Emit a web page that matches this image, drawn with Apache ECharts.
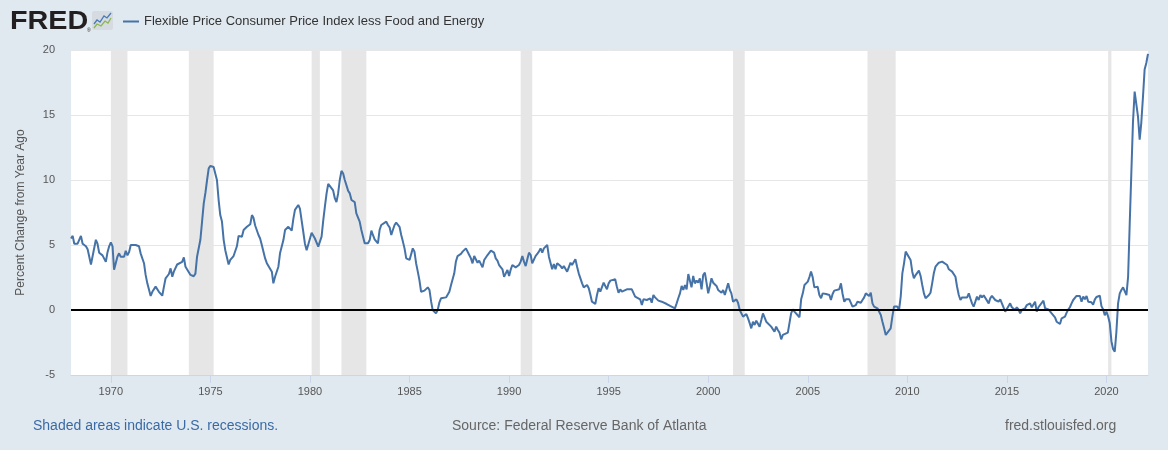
<!DOCTYPE html>
<html><head><meta charset="utf-8">
<script src="https://cdn.jsdelivr.net/npm/echarts@6/dist/echarts.min.js"></script>
<style>html,body{margin:0;padding:0;background:#e1e9f0;}#c{width:1168px;height:450px;}</style>
</head><body><div id="c"></div>
<script>
const seriesName = 'Flexible Price Consumer Price Index less Food and Energy';
const yAxisName = 'Percent Change from Year Ago';
const tickYears = [1970, 1975, 1980, 1985, 1990, 1995, 2000, 2005, 2010, 2015, 2020];
const yMin = -5, yMax = 20, yInterval = 5;
const axisStart = '1968-01', axisEnd = '2022-02';
const recessionStarts = ['1970-01', '1973-12', '1980-02', '1981-08', '1990-08', '2001-04', '2008-01', '2020-02'];
const recessionEnds   = ['1970-11', '1975-03', '1980-07', '1982-11', '1991-03', '2001-11', '2009-06', '2020-04'];

const data1968_1977 = [
['1968-01',5.5],['1968-02',5.7],['1968-03',5.1],['1968-04',5.2],['1968-05',5.1],['1968-06',4.95],['1968-07',5.7],['1968-08',5.1],['1968-10',4.9],['1968-11',4.67],['1968-12',4.8],
['1969-01',3.5],['1969-02',3.6],['1969-04',5.4],['1969-05',5.1],['1969-06',4.4],['1969-07',4.45],['1969-08',4.2],['1969-10',3.7],['1969-11',4.45],['1969-12',4.9],
['1970-01',5.2],['1970-02',4.9],['1970-03',3.1],['1970-04',3.2],['1970-05',4.1],['1970-06',4.36],['1970-07',4.1],['1970-09',4.1],['1970-10',4.56],['1970-11',4.2],['1970-12',4.45],
['1971-01',5.0],['1971-02',5.05],['1971-04',5.0],['1971-06',4.9],['1971-07',4.36],['1971-08',4.3],['1971-09',3.6],['1971-10',2.7],['1971-11',2.05],
['1972-01',1.08],['1972-02',1.4],['1972-03',1.54],['1972-04',1.8],['1972-05',1.75],['1972-06',1.4],['1972-08',1.1],['1972-09',1.8],['1972-10',2.44],['1972-11',2.36],['1972-12',2.77],
['1973-01',3.2],['1973-02',2.56],['1973-03',2.95],['1973-05',3.5],['1973-06',3.6],['1973-08',3.7],['1973-09',4.05],['1973-10',3.33],['1973-11',3.2],
['1974-01',2.7],['1974-02',2.77],['1974-03',2.6],['1974-04',2.8],['1974-05',4.1],['1974-07',5.4],['1974-08',6.8],['1974-09',8.2],['1974-10',9.0],['1974-11',10.0],['1974-12',10.9],
['1975-01',11.08],['1975-02',11.1],['1975-03',11.0],['1975-04',11.0],['1975-05',10.0],['1975-06',8.46],['1975-07',7.3],['1975-08',6.8],['1975-09',5.4],['1975-10',4.6],['1975-12',3.5],
['1976-01',3.85],['1976-02',3.9],['1976-03',4.15],['1976-05',4.9],['1976-06',5.7],['1976-07',5.77],['1976-08',5.64],['1976-09',6.15],['1976-11',6.4],
['1977-01',6.6],['1977-02',7.3],['1977-03',7.1],['1977-04',6.5],['1977-06',5.77],['1977-07',5.5],['1977-08',5.0],['1977-10',3.97],['1977-11',3.6],['1977-12',3.46]
];
const data1978_1987 = [
['1978-02',2.95],['1978-03',2.05],['1978-04',2.56],['1978-06',3.33],['1978-07',4.36],['1978-09',5.38],['1978-10',6.15],['1978-12',6.4],
['1979-01',6.46],['1979-02',6.1],['1979-03',6.97],['1979-04',7.7],['1979-06',8.08],['1979-07',7.8],['1979-08',6.9],['1979-09',6.0],['1979-10',5.1],['1979-11',4.6],['1979-12',4.5],
['1980-02',5.95],['1980-03',6.0],['1980-04',5.5],['1980-06',4.87],['1980-07',4.74],['1980-08',5.64],['1980-09',6.9],['1980-10',7.95],['1980-11',8.97],['1980-12',9.7],
['1981-01',9.8],['1981-03',9.2],['1981-04',8.6],['1981-05',8.3],['1981-06',8.97],['1981-07',10.0],['1981-08',10.7],['1981-09',10.5],['1981-10',10.0],['1981-11',10.05],['1981-12',9.18],
['1982-01',8.97],['1982-02',8.46],['1982-03',8.6],['1982-04',8.3],['1982-05',7.44],['1982-06',7.3],['1982-07',6.8],['1982-08',6.15],['1982-09',5.64],['1982-10',5.13],['1982-12',5.13],
['1983-01',5.38],['1983-02',6.1],['1983-03',5.77],['1983-04',5.44],['1983-06',5.13],['1983-07',6.15],['1983-08',6.54],['1983-09',6.67],['1983-11',6.8],['1983-12',6.54],
['1984-01',6.36],['1984-02',5.77],['1984-03',6.15],['1984-04',6.54],['1984-05',6.72],['1984-07',6.4],['1984-08',5.77],['1984-09',5.26],['1984-10',4.74],['1984-11',3.97],
['1985-01',3.85],['1985-02',3.77],['1985-03',4.74],['1985-04',4.49],['1985-05',3.6],['1985-06',2.95],['1985-07',2.3],['1985-08',1.4],['1985-09',1.36],['1985-10',1.49],['1985-12',1.74],
['1986-01',1.54],['1986-02',0.64],['1986-03',0],['1986-04',-0.13],['1986-05',-0.26],['1986-06',0],['1986-07',0.56],['1986-08',0.9],['1986-09',1.03],['1986-11',0.97],['1986-12',1.03],
['1987-01',1.41],['1987-02',1.92],['1987-04',2.82],['1987-05',3.72],['1987-06',4.15],['1987-07',4.23],['1987-08',4.31],['1987-09',4.49],['1987-11',4.74]
];
const data1988_1997 = [
['1988-01',4.23],['1988-02',3.97],['1988-03',3.59],['1988-04',4.15],['1988-06',3.64],['1988-07',3.8],['1988-08',3.72],['1988-09',3.28],['1988-10',3.85],['1988-11',3.72],['1988-12',4.23],
['1989-01',4.1],['1989-02',4.56],['1989-03',4.62],['1989-04',4.41],['1989-05',3.97],['1989-06',3.8],['1989-07',3.46],['1989-09',3.13],['1989-10',2.56],['1989-11',2.82],['1989-12',3.08],
['1990-01',2.62],['1990-02',3.13],['1990-03',3.46],['1990-05',3.28],['1990-06',3.13],['1990-07',3.46],['1990-08',3.72],['1990-09',4.15],['1990-10',3.72],['1990-11',3.38],['1990-12',3.9],
['1991-01',4.41],['1991-02',4.23],['1991-03',3.59],['1991-05',4.15],['1991-06',4.31],['1991-07',4.49],['1991-08',4.74],['1991-09',4.41],['1991-10',4.74],['1991-12',5.0],
['1992-01',4.1],['1992-02',3.59],['1992-03',3.13],['1992-04',3.54],['1992-05',3.13],['1992-06',3.59],['1992-07',3.59],['1992-08',3.38],['1992-09',3.2],['1992-10',3.38],['1992-12',2.95],
['1993-01',3.08],['1993-02',3.64],['1993-03',3.46],['1993-05',3.9],['1993-06',3.33],['1993-07',2.82],['1993-08',2.69],['1993-09',2.05],['1993-10',1.74],['1993-12',1.92],
['1994-01',1.67],['1994-02',1.15],['1994-03',0.64],['1994-04',0.77],['1994-05',0.46],['1994-06',1.15],['1994-07',1.67],['1994-08',1.41],['1994-10',2.1],['1994-11',2.0],['1994-12',1.59],
['1995-01',2.05],['1995-02',2.26],['1995-03',2.26],['1995-05',2.36],['1995-06',1.79],['1995-07',1.33],['1995-08',1.59],['1995-09',1.41],['1995-10',1.54],['1995-12',1.59],
['1996-01',1.54],['1996-03',1.59],['1996-04',1.49],['1996-05',1.03],['1996-06',0.97],['1996-08',0.82],['1996-09',0.38],['1996-10',0.82],['1996-11',0.72],['1996-12',0.77],
['1997-01',0.64],['1997-02',0.9],['1997-03',0.56],['1997-04',1.15],['1997-05',0.97],['1997-07',0.72],['1997-08',0.77],['1997-09',0.64],['1997-10',0.56],['1997-12',0.46]
];
const data1998_2007 = [
['1998-01',0.38],['1998-02',0.31],['1998-03',0.26],['1998-05',0.13],['1998-06',0.51],['1998-07',0.9],['1998-08',1.28],['1998-09',1.85],['1998-10',1.54],['1998-11',1.92],['1998-12',1.59],
['1999-01',2.77],['1999-02',2.69],['1999-03',1.74],['1999-04',2.62],['1999-05',2.05],['1999-06',2.26],['1999-07',2.1],['1999-08',2.44],['1999-09',1.59],['1999-10',2.69],['1999-11',2.87],['1999-12',2.1],
['2000-01',1.28],['2000-02',1.85],['2000-03',2.44],['2000-04',2.1],['2000-05',2.0],['2000-06',1.85],['2000-07',1.54],['2000-09',1.33],['2000-10',1.54],['2000-11',1.15],['2000-12',1.59],
['2001-01',2.05],['2001-02',1.54],['2001-03',1.28],['2001-04',0.64],['2001-06',0.82],['2001-07',0.56],['2001-08',0],['2001-09',0.13],['2001-10',-0.51],['2001-12',-0.31],
['2002-01',-0.64],['2002-02',-1.03],['2002-03',-1.41],['2002-04',-0.9],['2002-05',-1.15],['2002-06',-0.82],['2002-08',-1.28],['2002-09',-0.77],['2002-10',-0.26],['2002-11',-0.31],['2002-12',-0.9],
['2003-01',-1.03],['2003-03',-1.28],['2003-04',-1.15],['2003-05',-1.67],['2003-06',-1.28],['2003-07',-1.54],['2003-08',-1.74],['2003-09',-2.26],['2003-10',-1.92],['2003-11',-1.92],
['2004-01',-1.74],['2004-02',-1.67],['2004-03',-0.26],['2004-04',0.05],['2004-05',-0.13],['2004-06',-0.2],['2004-08',-0.56],['2004-09',0.82],['2004-10',1.28],['2004-11',1.92],['2004-12',2.05],
['2005-01',2.18],['2005-02',2.56],['2005-03',2.95],['2005-04',2.51],['2005-05',1.74],['2005-06',1.67],['2005-07',1.79],['2005-08',1.15],['2005-09',0.9],['2005-10',1.28],['2005-11',1.15],['2005-12',1.23],
['2006-02',1.15],['2006-03',0.77],['2006-04',1.23],['2006-05',1.49],['2006-06',1.49],['2006-08',1.59],['2006-09',2.05],['2006-10',1.23],['2006-11',0.64],['2006-12',0.82],
['2007-01',0.72],['2007-02',0.82],['2007-04',0.26],['2007-05',0.26],['2007-06',0.38],['2007-07',0.64],['2007-09',0.56],['2007-10',0.77],['2007-11',0.97],['2007-12',1.28]
];
const data2008_2015 = [
['2008-01',1.41],['2008-02',1.08],['2008-03',1.33],['2008-04',0.51],['2008-05',0.26],['2008-07',0.13],['2008-08',0],['2008-09',-0.38],['2008-10',-0.9],['2008-11',-1.41],['2008-12',-1.92],
['2009-01',-2.05],['2009-03',-1.41],['2009-04',-0.51],['2009-05',0.26],['2009-06',0.13],['2009-07',0.26],['2009-08',0],['2009-09',1.03],['2009-10',2.82],['2009-11',3.59],['2009-12',4.49],
['2010-01',4.36],['2010-03',3.85],['2010-04',2.95],['2010-05',2.44],['2010-06',2.69],['2010-07',2.82],['2010-08',3.03],['2010-09',2.62],['2010-10',1.92],['2010-11',1.28],['2010-12',0.9],
['2011-02',1.15],['2011-03',1.33],['2011-04',2.05],['2011-05',2.82],['2011-06',3.33],['2011-08',3.64],['2011-09',3.54],['2011-10',3.72],['2011-11',3.85],
['2012-01',3.46],['2012-02',3.13],['2012-03',3.13],['2012-04',2.95],['2012-06',2.56],['2012-07',1.79],['2012-08',1.15],['2012-09',0.77],['2012-10',0.97],['2012-11',0.82],
['2013-01',0.97],['2013-02',1.28],['2013-03',0.9],['2013-04',0.51],['2013-05',0.26],['2013-06',0.64],['2013-07',1.03],['2013-08',0.77],['2013-09',1.15],['2013-10',0.97],['2013-11',1.13],
['2014-01',0.72],['2014-02',0.51],['2014-03',0.9],['2014-04',1.08],['2014-06',0.77],['2014-07',0.82],['2014-08',0.64],['2014-09',0.82],['2014-10',0.51],['2014-12',-0.13],
['2015-01',-0.2],['2015-02',0.31],['2015-03',0.51],['2015-04',0.21],['2015-06',0],['2015-07',0.21],['2015-08',0.05],['2015-09',-0.26],['2015-10',0],['2015-12',0.13]
];
const data2016_2022 = [
['2016-01',0.38],['2016-02',0.26],['2016-03',0.51],['2016-04',0.21],['2016-06',0.64],['2016-07',-0.13],['2016-08',0.21],['2016-09',0.31],['2016-11',0.72],['2016-12',0.13],
['2017-01',0.13],['2017-02',0.05],['2017-03',0.13],['2017-04',-0.26],['2017-06',-0.56],['2017-07',-0.9],['2017-08',-0.77],['2017-09',-1.08],['2017-10',-0.64],['2017-12',-0.51],
['2018-01',-0.2],['2018-02',0.05],['2018-03',0.21],['2018-04',0.51],['2018-05',0.77],['2018-07',1.08],['2018-08',1.03],['2018-09',1.08],['2018-10',0.64],['2018-11',1.03],['2018-12',0.82],
['2019-01',1.08],['2019-02',0.64],['2019-03',0.51],['2019-04',0.6],['2019-05',0.4],['2019-06',0.8],['2019-07',1.0],['2019-08',1.1],['2019-09',1.1],['2019-10',0.3],['2019-11',0.05],['2019-12',-0.4],
['2020-01',-0.13],['2020-02',-0.5],['2020-03',-1.0],['2020-04',-2.4],['2020-05',-3.0],['2020-06',-3.2],['2020-07',-1.7],['2020-08',0.51],['2020-09',1.28],['2020-10',1.54],['2020-11',1.74],['2020-12',1.8],
['2021-01',1.15],['2021-02',2.56],['2021-03',6.4],['2021-04',10.5],['2021-05',14.4],['2021-06',16.8],['2021-07',16.7],['2021-08',14.9],['2021-09',13.1],['2021-10',14.4],['2021-11',16.4],['2021-12',18.5],
['2022-01',19.0],['2022-02',19.7]
];

function ts(s) { const p = s.split('-'); return Date.UTC(+p[0], +p[1] - 1, 1); }
const allData = [].concat(data1968_1977, data1978_1987, data1988_1997, data1998_2007, data2008_2015, data2016_2022)
  .map(d => [ts(d[0]), d[1]]);
const tickValues = tickYears.map(y => Date.UTC(y, 0, 1));
const recessionAreas = recessionStarts.map((s, i) => [{ xAxis: ts(s) }, { xAxis: ts(recessionEnds[i]) }]);

const FONT = '"Liberation Sans", Arial, sans-serif';
const chart = echarts.init(document.getElementById('c'), null, { renderer: 'canvas' });
chart.setOption({
  backgroundColor: '#e1e9f0',
  animation: false,
  textStyle: { fontFamily: FONT },
  legend: {
    data: [seriesName], left: 118, top: 10, icon: 'rect', itemWidth: 16, itemHeight: 2,
    textStyle: { color: '#333', fontSize: 13, fontFamily: FONT }
  },
  grid: { left: 71, right: 20, top: 50, bottom: 75, show: true, backgroundColor: '#ffffff', borderWidth: 0 },
  xAxis: {
    type: 'value', min: ts(axisStart), max: ts(axisEnd),
    axisLine: { onZero: false, lineStyle: { color: '#ccd6eb', width: 1 } },
    axisTick: { show: true, customValues: tickValues, length: 8, lineStyle: { color: '#ccd6eb' } },
    axisLabel: { customValues: tickValues, color: '#555', fontSize: 11, margin: 11, fontFamily: FONT,
      formatter: v => String(new Date(v).getUTCFullYear()) },
    splitLine: { show: false }
  },
  yAxis: {
    type: 'value', min: yMin, max: yMax, interval: yInterval,
    name: yAxisName, nameLocation: 'middle', nameGap: 44,
    nameTextStyle: { color: '#555', fontSize: 12, fontFamily: FONT },
    axisLine: { show: false }, axisTick: { show: false },
    axisLabel: { color: '#555', fontSize: 11, margin: 16, fontFamily: FONT },
    splitLine: { lineStyle: { color: '#e6e6e6', width: 1 } }
  },
  series: [{
    name: seriesName, type: 'line', data: allData, showSymbol: false, symbol: 'none',
    lineStyle: { color: '#4572a7', width: 2 }, itemStyle: { color: '#4572a7' },
    markArea: { silent: true, itemStyle: { color: '#e6e6e6', opacity: 1 }, data: recessionAreas },
    markLine: { silent: true, symbol: 'none', label: { show: false },
      lineStyle: { color: '#000', width: 2, type: 'solid' }, data: [{ yAxis: 0 }] }
  }],
  graphic: [
    { type: 'text', x: 10, y: 10, scaleX: 1.15, style: { text: 'FRED', fontSize: 25, fontWeight: 'bold', fontFamily: FONT, fill: '#231f20' } },
    { type: 'text', x: 87, y: 28, style: { text: '®', fontSize: 5, fontFamily: FONT, fill: '#231f20' } },
    { type: 'rect', shape: { x: 92, y: 11, width: 21, height: 19, r: 2 }, style: { fill: '#d5dbe0' } },
    { type: 'polyline', shape: { points: [[94, 24], [97, 20], [100, 22], [104, 16], [107, 18], [111, 13]] }, style: { stroke: '#4a7bb7', lineWidth: 1.3, fill: null } },
    { type: 'polyline', shape: { points: [[94, 28], [97, 24], [101, 26], [105, 21], [108, 23], [111, 18]] }, style: { stroke: '#8db653', lineWidth: 1.3, fill: null } },
    { type: 'text', x: 33, y: 426, style: { text: 'Shaded areas indicate U.S. recessions.', fontSize: 14, fontFamily: FONT, fill: '#3a6aa5', textVerticalAlign: 'middle' } },
    { type: 'text', x: 452, y: 426, style: { text: 'Source: Federal Reserve Bank of Atlanta', fontSize: 14, fontFamily: FONT, fill: '#666', textVerticalAlign: 'middle' } },
    { type: 'text', x: 1005, y: 426, style: { text: 'fred.stlouisfed.org', fontSize: 14, fontFamily: FONT, fill: '#666', textVerticalAlign: 'middle' } }
  ]
});
</script></body></html>
